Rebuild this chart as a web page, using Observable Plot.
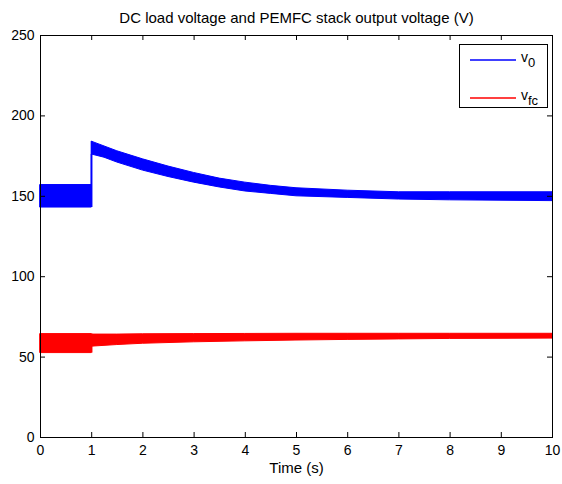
<!DOCTYPE html>
<html>
<head>
<meta charset="utf-8">
<script src="https://cdn.jsdelivr.net/npm/d3@7"></script>
<script src="https://cdn.jsdelivr.net/npm/@observablehq/plot@0.6"></script>
<style>
  html, body { margin: 0; padding: 0; background: #fff; }
  #chart { position: relative; width: 562px; height: 484px; }
  #legend { position: absolute; left: 459px; top: 44px; width: 87px; height: 62px;
            border: 1px solid #000; background: #fff;
            font-family: 'Liberation Sans', Arial, Helvetica, sans-serif; font-size: 14px; color: #000; }
  .lg-line { position: absolute; left: 10px; width: 46px; height: 2px; opacity: 0.75; }
  .lg-text { position: absolute; left: 61px; line-height: 14px; white-space: nowrap; }
  .lg-text sub { font-size: 13px; vertical-align: -5px; line-height: 0; }
</style>
</head>
<body>
<div id="chart"></div>
<script>
// ---- data ----
const title = "DC load voltage and PEMFC stack output voltage (V)";
const xLabel = "Time (s)";
const xTicks = [0, 1, 2, 3, 4, 5, 6, 7, 8, 9, 10];
const yTicks = [0, 50, 100, 150, 200, 250];

// v0 (DC load voltage) envelope of the ripple band
const v0T  = [0, 1, 1, 1.25, 1.5, 2, 2.5, 3, 3.5, 4, 4.5, 5, 6, 7, 8, 10];
const v0Lo = [143, 143, 176, 174, 171, 166, 162, 158.5, 155.5, 153, 151.5, 150, 149, 148, 147.5, 147];
const v0Hi = [157, 157, 184, 181, 178, 173, 168.5, 164.5, 161, 158.5, 156.5, 155, 153.5, 152.5, 152.5, 152.5];

// vfc (PEMFC stack voltage) envelope of the ripple band
const vfcT  = [0, 1, 1, 1.5, 2, 3, 4, 5, 6, 7, 8, 10];
const vfcLo = [52.5, 52.5, 56.5, 57.5, 58.3, 59.2, 59.8, 60.3, 60.7, 61, 61.3, 61.5];
const vfcHi = [64.3, 64.3, 64, 64, 64.2, 64.3, 64.4, 64.5, 64.5, 64.5, 64.5, 64.5];

const seriesNames = ["v", "v"];
const seriesSubs = ["0", "fc"];
const seriesColors = ["#0000ff", "#ff0000"];

// ---- build tables ----
const v0 = v0T.map((t, i) => ({t, lo: v0Lo[i], hi: v0Hi[i]}));
const vfc = vfcT.map((t, i) => ({t, lo: vfcLo[i], hi: vfcHi[i]}));
const v0Jump = [{t: v0T[1], lo: v0Lo[1], hi: v0Hi[2]}];
const vfcJump = [{t: vfcT[1], lo: vfcLo[1], hi: vfcHi[1]}];

const W = 562, H = 484;
const mL = 40, mR = 10, mT = 35, mB = 47;
const innerH = H - mT - mB, innerW = W - mL - mR;
const tick = 5;
const font = "'Liberation Sans', Arial, Helvetica, sans-serif";

const svg = Plot.plot({
  width: W, height: H,
  marginLeft: mL, marginRight: mR, marginTop: mT, marginBottom: mB,
  style: {fontFamily: font, fontSize: "14px", background: "#fff", color: "#000"},
  x: {domain: [0, 10], label: null},
  y: {domain: [0, 250], label: null},
  marks: [
    Plot.areaY(v0, {x: "t", y1: "lo", y2: "hi", fill: seriesColors[0], stroke: seriesColors[0], strokeWidth: 1}),
    Plot.ruleX(v0Jump, {x: "t", y1: "lo", y2: "hi", stroke: seriesColors[0], strokeWidth: 1.5}),
    Plot.areaY(vfc, {x: "t", y1: "lo", y2: "hi", fill: seriesColors[1], stroke: seriesColors[1], strokeWidth: 1}),
    Plot.ruleX(vfcJump, {x: "t", y1: "lo", y2: "hi", stroke: seriesColors[1], strokeWidth: 1.5}),
    // inward ticks on all four sides
    Plot.tickX(xTicks, {x: d => d, insetTop: innerH - tick, stroke: "#000"}),
    Plot.tickX(xTicks, {x: d => d, insetBottom: innerH - tick, stroke: "#000"}),
    Plot.tickY(yTicks, {y: d => d, insetRight: innerW - tick, stroke: "#000"}),
    Plot.tickY(yTicks, {y: d => d, insetLeft: innerW - tick, stroke: "#000"}),
    Plot.frame({stroke: "#000", strokeWidth: 1}),
    Plot.axisX(xTicks, {tickSize: 0, tickPadding: 8, fontSize: 14}),
    Plot.axisY(yTicks, {tickSize: 0, tickPadding: 6, fontSize: 14}),
    Plot.text([xLabel], {frameAnchor: "bottom", dy: 31, text: d => d, fontSize: 15, lineAnchor: "middle"}),
    Plot.text([title], {frameAnchor: "top", dy: -17, text: d => d, fontSize: 15, lineAnchor: "middle"})
  ]
});

const chart = document.getElementById("chart");
chart.appendChild(svg);

// ---- legend (HTML overlay) ----
const legend = document.createElement("div");
legend.id = "legend";
const rowsTop = [14, 52];
seriesNames.forEach((n, i) => {
  const line = document.createElement("div");
  line.className = "lg-line";
  line.style.top = rowsTop[i] + "px";
  line.style.backgroundColor = seriesColors[i];
  legend.appendChild(line);
  const txt = document.createElement("div");
  txt.className = "lg-text";
  txt.style.top = (rowsTop[i] - 9) + "px";
  txt.innerHTML = n + "<sub>" + seriesSubs[i] + "</sub>";
  legend.appendChild(txt);
});
chart.appendChild(legend);
</script>
</body>
</html>
